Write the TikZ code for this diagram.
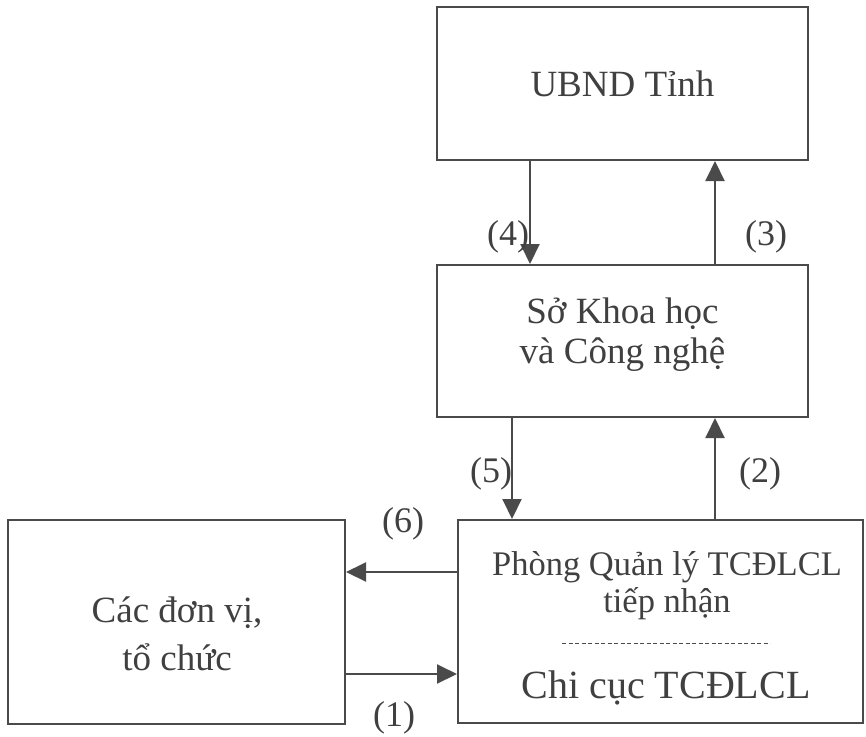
\documentclass[tikz,border=0pt]{standalone}
\usepackage{fontspec}
\setmainfont{Liberation Serif}
\usetikzlibrary{arrows.meta}
\definecolor{ink}{HTML}{404040}
\definecolor{linec}{HTML}{4A4A4A}
\tikzset{
  box/.style={draw=linec, line width=2pt, minimum width=#1, inner sep=0pt},
  arr/.style={draw=linec, line width=2pt, -{Triangle[length=20pt,width=19pt]}},
  txt/.style={text=ink, inner sep=0pt, align=center},
  num/.style={text=ink, inner sep=0pt, font=\fontsize{36}{40}\selectfont},
}
\begin{document}
\begin{tikzpicture}[x=1pt,y=-1pt]
\useasboundingbox (0,0) rectangle (866,736);
% boxes
\node[box=371pt, minimum height=153pt, txt, font=\fontsize{37}{44}\selectfont] (ubnd) at (622.5,83.5) {UBND Tỉnh};
\node[box=371pt, minimum height=152pt] (so) at (622.5,341) {};
\node[txt, font=\fontsize{37}{40}\selectfont] (sotxt) at (622.5,335) {Sở Khoa học\\[0pt]và Công nghệ};
\node[box=405pt, minimum height=203pt] (phong) at (660.5,621.5) {};
\node[txt, font=\fontsize{34.5}{37}\selectfont] (phong1) at (667,586) {Phòng Quản lý TCĐLCL\\tiếp nhận};
\coordinate (dl) at (562,643);
\coordinate (dr) at (770,643);
\draw[linec, line width=1pt, dash pattern=on 4pt off 2.5pt] (dl) -- (dr);
\node[txt, font=\fontsize{40}{44}\selectfont] (chicuc) at (666,688) {Chi cục TCĐLCL};
\node[box=337pt, minimum height=204pt] (cac) at (176.5,622) {};
\node[txt, font=\fontsize{37}{48}\selectfont] (cactxt) at (177,634) {Các đơn vị,\\tổ chức};
% connectors
\draw[arr] (ubnd.south -| 530,0) -- (so.north -| 530,0);
\draw[arr] (so.north -| 715,0) -- (ubnd.south -| 715,0);
\draw[arr] (so.south -| 512,0) -- (phong.north -| 512,0);
\draw[arr] (phong.north -| 715,0) -- (so.south -| 715,0);
\draw[arr] (phong.west |- 0,572) -- (cac.east |- 0,572);
\draw[arr] (cac.east |- 0,674) -- (phong.west |- 0,674);
% labels
\node[num] (l4) at (508,237) {(4)};
\node[num] (l3) at (766,237) {(3)};
\node[num] (l5) at (491,474) {(5)};
\node[num] (l2) at (760,474) {(2)};
\node[num] (l6) at (403,524) {(6)};
\node[num] (l1) at (394,718) {(1)};
\end{tikzpicture}
\end{document}
